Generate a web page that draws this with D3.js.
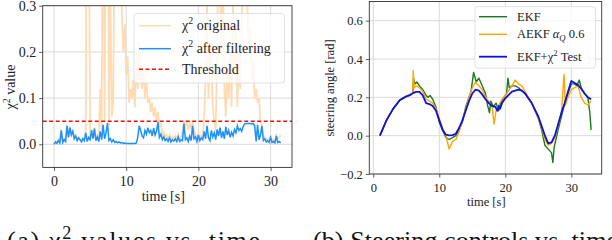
<!DOCTYPE html>
<html>
<head>
<meta charset="utf-8">
<script src="https://cdn.jsdelivr.net/npm/d3@7"></script>
<style>
  body { margin: 0; background: #fff; }
  svg { display: block; }
  svg text { font-family: "Liberation Serif", "DejaVu Serif", serif; }
</style>
</head>
<body>
<div id="chart"></div>
<script>
// ---- (a) chi^2 values, sampled every 0.2 s ----
const chiFiltered = [
  0.000, 0.005, 0.002, 0.008, 0.003, 0.030, 0.004, 0.010, 0.006, 0.040,
  0.015, 0.036, 0.020, 0.028, 0.012, 0.018, 0.008, 0.014, 0.010, 0.005,
  0.012, 0.008, 0.025, 0.006, 0.015, 0.010, 0.030, 0.012, 0.034, 0.008,
  0.016, 0.006, 0.028, 0.010, 0.042, 0.012, 0.024, 0.046, 0.008, 0.012,
  0.005, 0.010, 0.004, 0.006, 0.003, 0.005, 0.003, 0.004, 0.002, 0.003,
  0.002, 0.002, 0.002, 0.002, 0.002, 0.002, 0.002, 0.003, 0.015, 0.040,
  0.030, 0.018, 0.014, 0.030, 0.022, 0.036, 0.025, 0.030, 0.018, 0.035,
  0.020, 0.028, 0.048, 0.015, 0.022, 0.010, 0.016, 0.008, 0.012, 0.006,
  0.014, 0.005, 0.010, 0.007, 0.012, 0.006, 0.016, 0.006, 0.010, 0.008,
  0.045, 0.010, 0.014, 0.006, 0.018, 0.008, 0.040, 0.012, 0.016, 0.006,
  0.020, 0.008, 0.014, 0.010, 0.028, 0.012, 0.040, 0.014, 0.008, 0.030,
  0.016, 0.025, 0.010, 0.032, 0.018, 0.036, 0.014, 0.028, 0.012, 0.038,
  0.020, 0.030, 0.015, 0.026, 0.018, 0.032, 0.025, 0.040, 0.030, 0.034,
  0.028, 0.038, 0.044, 0.045, 0.045, 0.045, 0.045, 0.044, 0.045, 0.040,
  0.006, 0.042, 0.010, 0.020, 0.040, 0.008, 0.012, 0.005, 0.008, 0.004,
  0.015, 0.004, 0.006, 0.003, 0.018, 0.004, 0.006, 0.003
];
const chiOriginal = [
  0.002, 0.006, 0.004, 0.010, 0.005, 0.032, 0.006, 0.012, 0.008, 0.042,
  0.017, 0.038, 0.022, 0.030, 0.014, 0.020, 0.010, 0.016, 0.012, 0.007,
  0.014, 0.010, 0.030, 0.900, 0.600, 0.015, 0.032, 0.015, 0.036, 0.012,
  0.020, 0.010, 0.120, 0.030, 0.800, 0.050, 0.600, 0.900, 0.040, 0.350,
  0.060, 0.090, 0.500, 0.800, 1.000, 0.700, 0.500, 0.280, 0.200, 0.260,
  0.150, 0.190, 0.090, 0.120, 0.100, 0.140, 0.080, 0.200, 0.120, 0.220,
  0.150, 0.120, 0.170, 0.100, 0.140, 0.090, 0.100, 0.070, 0.090, 0.060,
  0.080, 0.050, 0.070, 0.040, 0.045, 0.020, 0.025, 0.015, 0.020, 0.012,
  0.020, 0.010, 0.016, 0.012, 0.018, 0.012, 0.022, 0.012, 0.016, 0.030,
  0.050, 0.040, 0.048, 0.030, 0.045, 0.035, 0.050, 0.030, 0.022, 0.012,
  0.025, 0.014, 0.020, 0.016, 0.060, 0.140, 0.300, 0.100, 0.220, 0.170,
  0.080, 0.050, 0.030, 0.200, 0.500, 0.350, 0.200, 0.400, 0.120, 0.060,
  0.180, 0.100, 0.220, 0.080, 0.300, 0.150, 0.250, 0.080, 0.200, 0.120,
  0.250, 0.400, 0.350, 0.500, 0.300, 0.200, 0.250, 0.140, 0.180, 0.100,
  0.120, 0.090, 0.100, 0.050, 0.040, 0.020, 0.015, 0.010, 0.012, 0.008,
  0.018, 0.008, 0.010, 0.008, 0.020, 0.012, 0.015, 0.020
];
const chiTime = d3.range(chiFiltered.length).map(i => +(i * 0.2).toFixed(1));
const chiThreshold = 0.05;
const chiYTicks = [0.0, 0.1, 0.2, 0.3];
const timeTicks = [0, 10, 20, 30];

// ---- (b) steering angle [rad] ----
const ekfTime = [1, 2, 3, 4, 5, 6, 6.1, 6.3, 6.6, 7, 7.5, 8, 8.3, 8.6, 9, 9.5, 10, 10.5, 11, 11.5,
  12, 12.5, 13, 13.5, 14, 14.5, 14.8, 15.2, 15.6, 16, 16.5, 17, 17.3, 17.6, 17.8, 18.2, 18.6, 19,
  19.3, 19.6, 20, 20.2, 20.4, 20.6, 21, 21.5, 22, 23, 24, 25, 25.5, 26, 26.5, 27, 27.2, 27.4, 27.6,
  28, 28.5, 29, 29.5, 30, 30.5, 30.8, 31.2, 31.5, 32, 32.5, 32.8, 33];
const ekfAngle = [0.0, 0.08, 0.14, 0.185, 0.205, 0.222, 0.30, 0.27, 0.28, 0.26, 0.24, 0.21, 0.20, 0.21,
  0.19, 0.15, 0.07, 0.03, -0.01, -0.02, -0.01, 0.0, 0.03, 0.07, 0.15, 0.20, 0.23, 0.33, 0.28, 0.30,
  0.26, 0.22, 0.16, 0.12, 0.18, 0.15, 0.17, 0.13, 0.17, 0.19, 0.21, 0.22, 0.30, 0.25, 0.26, 0.26,
  0.25, 0.22, 0.17, 0.09, 0.03, -0.05, -0.07, -0.09, -0.14, -0.06, -0.03, 0.03, 0.10, 0.17, 0.22,
  0.27, 0.27, 0.26, 0.29, 0.25, 0.22, 0.20, 0.12, 0.03];

const aekfTime = [1, 2, 3, 4, 5, 6, 6.05, 6.2, 6.5, 7, 7.5, 8, 8.5, 9, 9.5, 10, 10.5, 11, 11.5, 12,
  12.5, 13, 13.5, 14, 14.5, 15, 15.5, 16, 16.5, 17, 17.5, 18, 18.3, 18.6, 19, 19.5, 20, 21, 21.5,
  22, 22.5, 23, 24, 25, 25.5, 26, 26.5, 27, 27.5, 28, 28.5, 28.9, 29.1, 29.5, 30, 30.5, 31, 31.5,
  32, 32.5, 33];
const aekfAngle = [0.0, 0.08, 0.14, 0.185, 0.205, 0.222, 0.34, 0.25, 0.26, 0.25, 0.23, 0.19, 0.18, 0.17,
  0.14, 0.09, 0.04, 0.0, -0.07, -0.03, -0.02, 0.02, 0.08, 0.14, 0.20, 0.25, 0.28, 0.26, 0.24, 0.20,
  0.18, 0.15, 0.06, 0.13, 0.16, 0.19, 0.21, 0.26, 0.29, 0.27, 0.26, 0.23, 0.17, 0.09, 0.04, -0.02,
  -0.05, -0.04, -0.01, 0.05, 0.12, 0.32, 0.16, 0.20, 0.24, 0.25, 0.26, 0.20, 0.17, 0.16, 0.18];

const chiTestTime = [1, 2, 3, 4, 5, 5.5, 6, 6.5, 7, 7.5, 8, 8.5, 9, 9.5, 10, 10.5, 11, 11.5, 12, 12.5,
  13, 13.5, 14, 14.5, 15, 15.5, 16, 16.5, 17, 17.5, 18, 18.5, 18.8, 19, 19.2, 19.5, 20, 21, 22,
  22.5, 23, 24, 25, 25.5, 26, 26.5, 27, 27.5, 28, 28.5, 29, 29.5, 30, 30.5, 31, 31.5, 32, 32.5, 33];
const chiTestAngle = [0.0, 0.08, 0.14, 0.185, 0.205, 0.21, 0.222, 0.228, 0.228, 0.21, 0.17, 0.165, 0.155,
  0.13, 0.08, 0.03, 0.005, 0.002, 0.003, 0.01, 0.04, 0.08, 0.13, 0.18, 0.22, 0.24, 0.235, 0.215,
  0.19, 0.17, 0.155, 0.15, 0.13, 0.155, 0.14, 0.17, 0.195, 0.23, 0.24, 0.235, 0.22, 0.17, 0.10,
  0.05, 0.0, -0.04, -0.035, 0.0, 0.06, 0.12, 0.17, 0.23, 0.285, 0.275, 0.265, 0.245, 0.22, 0.20, 0.19];
const steerYTicks = [-0.2, 0.0, 0.2, 0.4, 0.6];

const W = 612, H = 240;
const serif = "Liberation Serif, DejaVu Serif, serif";
const svg = d3.select("#chart").append("svg")
  .attr("width", W).attr("height", H)
  .attr("font-family", serif);

const gridColor = "#d6d6d6";
const spineColor = "#333";

// helper: draw grid and ticks for a panel
function panel(x, y, xTicks, yTicks, fontSize, clipId) {
  const [x0, x1] = x.range(), [y1, y0] = y.range();
  const g = svg.append("g");
  g.append("clipPath").attr("id", clipId)
    .append("rect").attr("x", x0).attr("y", y0).attr("width", x1 - x0).attr("height", y1 - y0);

  g.selectAll(".gx").data(xTicks).join("line")
    .attr("x1", d => x(d)).attr("x2", d => x(d)).attr("y1", y0).attr("y2", y1)
    .attr("stroke", gridColor).attr("stroke-width", 0.9);
  g.selectAll(".gy").data(yTicks).join("line")
    .attr("x1", x0).attr("x2", x1).attr("y1", d => y(d)).attr("y2", d => y(d))
    .attr("stroke", gridColor).attr("stroke-width", 0.9);

  const xAxis = g.append("g").attr("transform", `translate(0,${y1})`)
    .call(d3.axisBottom(x).tickValues(xTicks).tickSize(3.5).tickFormat(d3.format("d")));
  const yAxis = g.append("g").attr("transform", `translate(${x0},0)`)
    .call(d3.axisLeft(y).tickValues(yTicks).tickSize(3.5)
      .tickFormat(d => d3.format(".1f")(d).replace("-", "\u2212")));
  [xAxis, yAxis].forEach(a => {
    a.attr("font-family", serif).attr("font-size", fontSize);
    a.select(".domain").remove();
    a.selectAll("line").attr("stroke", spineColor).attr("stroke-width", 0.8);
    a.selectAll("text").attr("fill", "#222");
  });
  xAxis.selectAll("text").attr("dy", "0.9em");
  return g;
}

function frame(g, x, y) {
  const [x0, x1] = x.range(), [y1, y0] = y.range();
  g.append("rect").attr("x", x0).attr("y", y0).attr("width", x1 - x0).attr("height", y1 - y0)
    .attr("fill", "none").attr("stroke", spineColor).attr("stroke-width", 0.9);
}

// chi^2 label helper: writes "χ" then superscript "2" into a text element
function chiText(t, sup, rest) {
  t.append("tspan").text("\u03c7");
  t.append("tspan").attr("dy", -sup).style("font-size", "70%").text("2");
  t.append("tspan").attr("dy", sup).text(rest);
}

// ================= panel (a) =================
const xa = d3.scaleLinear().domain([-1.57, 32.97]).range([42.7, 292]);
const ya = d3.scaleLinear().domain([-0.05, 0.3]).range([167.4, 5.7]);
const ga = panel(xa, ya, timeTicks, chiYTicks, 14, "clipA");

const chiOrigPts = chiTime.map((t, i) => [t, chiOriginal[i]]);
const chiFiltPts = chiTime.map((t, i) => [t, chiFiltered[i]]);
const lineA = d3.line().x(d => xa(d[0])).y(d => ya(d[1]));

const plotA = ga.append("g").attr("clip-path", "url(#clipA)");
plotA.append("path").datum(chiOrigPts).attr("d", lineA)
  .attr("fill", "none").attr("stroke", "#fddcb4").attr("stroke-width", 1.8);
plotA.append("path").datum(chiFiltPts).attr("d", lineA)
  .attr("fill", "none").attr("stroke", "#1e90ff").attr("stroke-width", 1.5);
plotA.append("line")
  .attr("x1", xa.range()[0]).attr("x2", xa.range()[1])
  .attr("y1", ya(chiThreshold)).attr("y2", ya(chiThreshold))
  .attr("stroke", "#e8120c").attr("stroke-width", 1.4).attr("stroke-dasharray", "4,2.5");
frame(ga, xa, ya);

// axis labels (a)
ga.append("text").attr("x", (xa(0) + xa(30)) / 2 + 1).attr("y", 201)
  .attr("text-anchor", "middle").attr("font-size", 14).attr("fill", "#222").text("time [s]");
const yla = ga.append("text").attr("transform", "translate(15,87) rotate(-90)")
  .attr("text-anchor", "middle").attr("font-size", 14).attr("fill", "#222");
chiText(yla, 5, " value");

// legend (a)
const legA = ga.append("g");
legA.append("rect").attr("x", 134).attr("y", 13.5).attr("width", 150.5).attr("height", 69.5)
  .attr("rx", 3).attr("fill", "#fff").attr("fill-opacity", 0.8)
  .attr("stroke", "#d9d9d9").attr("stroke-width", 0.8);
const legAItems = [
  { y: 25.7, color: "#fddcb4", dash: null, label: [" original"] },
  { y: 48.7, color: "#1e90ff", dash: null, label: [" after filtering"] },
  { y: 69.3, color: "#e8120c", dash: "4,2.5", label: null }
];
legAItems.forEach(it => {
  legA.append("line").attr("x1", 139).attr("x2", 171).attr("y1", it.y).attr("y2", it.y)
    .attr("stroke", it.color).attr("stroke-width", 1.5).attr("stroke-dasharray", it.dash);
  const t = legA.append("text").attr("x", 182).attr("y", it.y + 4.5)
    .attr("font-size", 14).attr("fill", "#222");
  if (it.label) chiText(t, 6, it.label[0]);
  else t.text("Threshold");
});

// ================= panel (b) =================
const xb = d3.scaleLinear().domain([-0.6, 34.6]).range([369.3, 601.7]);
const yb = d3.scaleLinear().domain([-0.2, 0.7]).range([174, 1.5]);
const gb = panel(xb, yb, timeTicks, steerYTicks, 12.5, "clipB");

const lineB = d3.line().x(d => xb(d[0])).y(d => yb(d[1]));
const seriesB = [
  { time: ekfTime, vals: ekfAngle, color: "#1a7a1a", w: 1.4 },
  { time: aekfTime, vals: aekfAngle, color: "#ffa500", w: 1.4 },
  { time: chiTestTime, vals: chiTestAngle, color: "#1010e0", w: 1.8 }
];
const plotB = gb.append("g").attr("clip-path", "url(#clipB)");
seriesB.forEach(s => {
  plotB.append("path").datum(s.time.map((t, i) => [t, s.vals[i]])).attr("d", lineB)
    .attr("fill", "none").attr("stroke", s.color).attr("stroke-width", s.w)
    .attr("stroke-linejoin", "round");
});
frame(gb, xb, yb);

gb.append("text").attr("x", (xb(0) + xb(30)) / 2 + 14).attr("y", 206)
  .attr("text-anchor", "middle").attr("font-size", 12.5).attr("fill", "#222").text("time [s]");
gb.append("text").attr("transform", "translate(334,88) rotate(-90)")
  .attr("text-anchor", "middle").attr("font-size", 12.5).attr("fill", "#222")
  .text("steering angle [rad]");

// legend (b)
const legB = gb.append("g");
legB.append("rect").attr("x", 475).attr("y", 6.7).attr("width", 120.5).attr("height", 61.5)
  .attr("rx", 3).attr("fill", "#fff").attr("fill-opacity", 0.8)
  .attr("stroke", "#d9d9d9").attr("stroke-width", 0.8);
const legBY = [16.7, 34.3, 56.7];
seriesB.forEach((s, i) => {
  legB.append("line").attr("x1", 479).attr("x2", 507).attr("y1", legBY[i]).attr("y2", legBY[i])
    .attr("stroke", s.color).attr("stroke-width", s.w);
  const t = legB.append("text").attr("x", 517).attr("y", legBY[i] + 4)
    .attr("font-size", 12.5).attr("fill", "#222");
  if (i === 0) t.text("EKF");
  else if (i === 1) {
    t.append("tspan").text("AEKF ");
    t.append("tspan").style("font-style", "italic").text("\u03b1");
    t.append("tspan").attr("dy", 2.5).style("font-size", "70%").style("font-style", "italic").text("Q");
    t.append("tspan").attr("dy", -2.5).text(" 0.6");
  } else {
    t.append("tspan").text("EKF+\u03c7");
    t.append("tspan").attr("dy", -5).style("font-size", "70%").text("2");
    t.append("tspan").attr("dy", 5).text(" Test");
  }
});

// ================= captions (cut off by the bottom edge, as in the source) =================
const capA = svg.append("text").attr("x", 7).attr("y", 249)
  .attr("font-size", 26).attr("fill", "#111")
  .attr("textLength", 253).attr("lengthAdjust", "spacing");
capA.append("tspan").text("(a) \u03c7");
capA.append("tspan").attr("dy", -10).style("font-size", "70%").text("2");
capA.append("tspan").attr("dy", 10).text(" values vs. time");
svg.append("text").attr("x", 313).attr("y", 249)
  .attr("font-size", 26).attr("fill", "#111")
  .attr("textLength", 305).attr("lengthAdjust", "spacing")
  .text("(b) Steering controls vs. time");
</script>
</body>
</html>
